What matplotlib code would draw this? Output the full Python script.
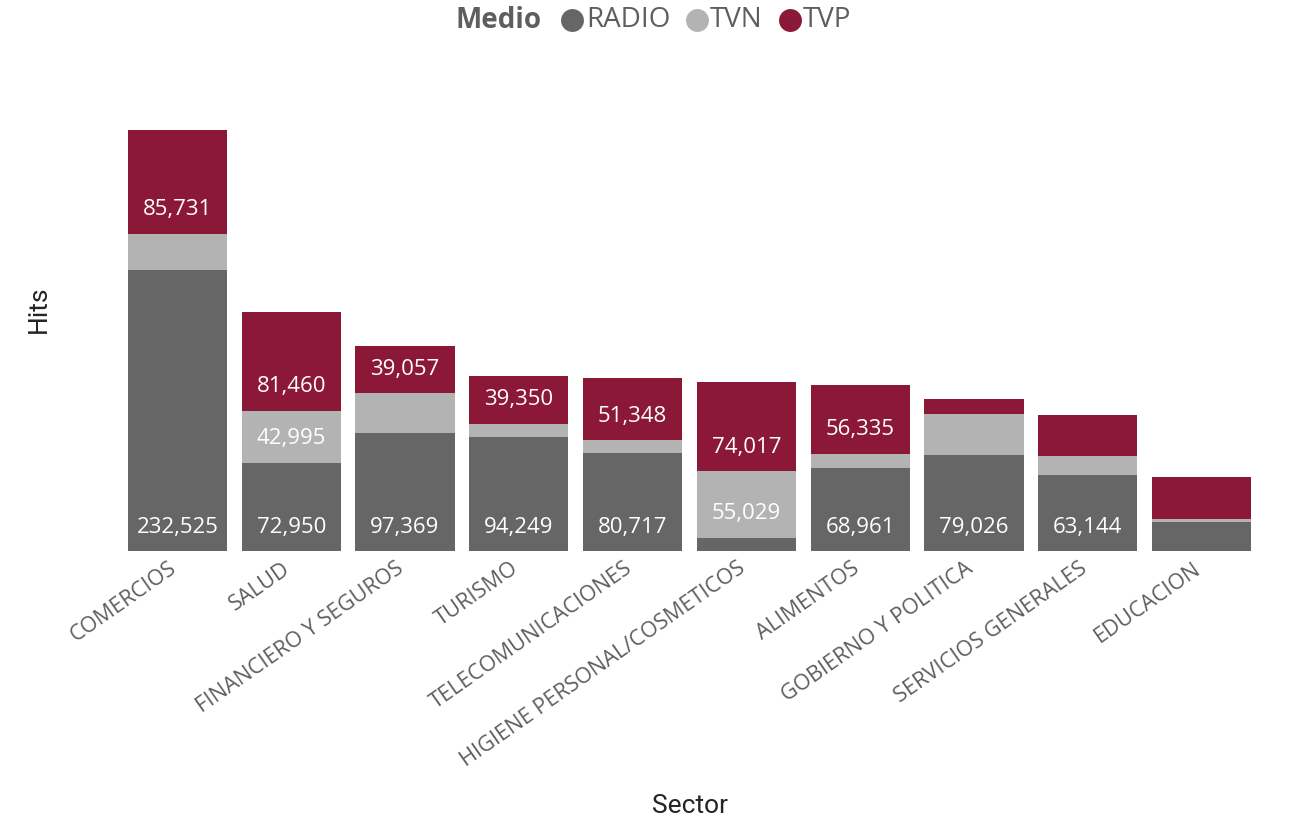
import matplotlib
matplotlib.use("Agg")
import matplotlib.pyplot as plt
from matplotlib.lines import Line2D
from matplotlib.transforms import ScaledTranslation

sectors = ["COMERCIOS", "SALUD", "FINANCIERO Y SEGUROS", "TURISMO", "TELECOMUNICACIONES",
           "HIGIENE PERSONAL/COSMETICOS", "ALIMENTOS", "GOBIERNO Y POLITICA",
           "SERVICIOS GENERALES", "EDUCACION"]
radio = [232525, 72950, 97369, 94249, 80717, 10800, 68961, 79026, 63144, 24000]
tvn = [29800, 42995, 33000, 10800, 10800, 55029, 11600, 34000, 15700, 2500]
tvp = [85731, 81460, 39057, 39350, 51348, 74017, 56335, 12400, 34000, 34800]
series_names = ["RADIO", "TVN", "TVP"]
colors = ["#666666", "#B3B3B3", "#8C1837"]
label_threshold = 38000

plt.rcParams['font.family'] = ['Open Sans', 'DejaVu Sans']

fig = plt.figure(figsize=(12.94, 8.33), dpi=100)
ax = fig.add_axes([120.5/1294, 1-551/833, 1138/1294, 451/833])

x = list(range(len(sectors)))
bottom = [0]*len(sectors)
for vals, name, col in zip([radio, tvn, tvp], series_names, colors):
    ax.bar(x, vals, bottom=bottom, width=0.87, color=col, label=name)
    for i, v in enumerate(vals):
        if v >= label_threshold:
            ax.annotate(f"{v:,}", xy=(i, bottom[i]), xytext=(0, 24),
                        textcoords="offset pixels",
                        ha="center", va="center", color="white", fontsize=16)
    bottom = [b + v for b, v in zip(bottom, vals)]

ax.set_xlim(-0.5, len(sectors) - 0.5)
ax.set_ylim(0, max(bottom) * 451/421)
ax.set_yticks([])
ax.set_xticks(x)
ax.set_xticklabels(sectors, rotation=35, ha="right", rotation_mode="anchor",
                   fontsize=15.7, color="#605E5C")
ax.tick_params(axis="x", length=0, pad=5)
offset = ScaledTranslation(-9/100, 0, fig.dpi_scale_trans)
for lab in ax.get_xticklabels():
    lab.set_transform(lab.get_transform() + offset)
for s in ax.spines.values():
    s.set_visible(False)

title_font = ['Roboto', 'DejaVu Sans']
fig.text(39/1294, 1-309/833, "Hits", fontsize=19, color="#252423", rotation=90,
         ha="center", va="center", family=title_font)
fig.text(690/1294, 1-806/833, "Sector", fontsize=19, color="#252423", ha="center", va="center",
         family=title_font)

# Legend
ly = 1 - 20/833
fig.text(456/1294, ly, "Medio", fontsize=20, fontweight="bold", color="#605E5C", va="center", ha="left")
pos = [(572, 586), (697, 710), (790, 803)]
for (cx, tx), name, col in zip(pos, series_names, colors):
    fig.add_artist(Line2D([cx/1294], [ly], marker="o", markersize=16.5, color=col,
                          markeredgewidth=0, transform=fig.transFigure))
    fig.text(tx/1294, ly, name, fontsize=20, color="#605E5C", va="center", ha="left")

fig.savefig("out.png", dpi=100)
